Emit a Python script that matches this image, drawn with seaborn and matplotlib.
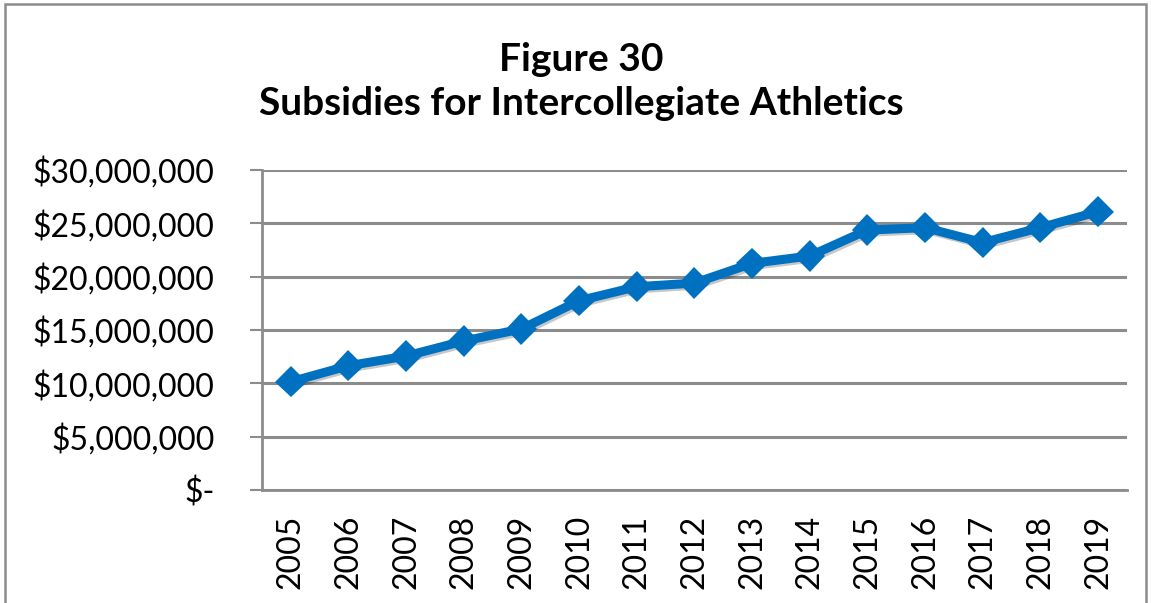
import matplotlib
matplotlib.use("Agg")
import matplotlib.pyplot as plt
import matplotlib.patheffects as pe
from matplotlib.patches import Rectangle
from matplotlib.ticker import FuncFormatter
import numpy as np
import pandas as pd
import seaborn as sns

# Subsidy totals by fiscal year
years = ["2005", "2006", "2007", "2008", "2009", "2010", "2011", "2012",
         "2013", "2014", "2015", "2016", "2017", "2018", "2019"]
subsidies = [10_150_000, 11_650_000, 12_560_000, 13_970_000, 15_100_000,
             17_750_000, 19_060_000, 19_400_000, 21_250_000, 21_940_000,
             24_370_000, 24_600_000, 23_200_000, 24_600_000, 26_100_000]
y_ticks = [0, 5_000_000, 10_000_000, 15_000_000, 20_000_000, 25_000_000, 30_000_000]

title_text = "Figure 30\nSubsidies for Intercollegiate Athletics"

sns.set_theme(style="white")
plt.rcParams["font.family"] = ["Lato", "DejaVu Sans"]
plt.rcParams["text.color"] = "black"

LINE_BLUE = "#0070C0"
GRID_GRAY = "#8C8C8C"

df = pd.DataFrame({"year": years, "subsidy": subsidies})

fig = plt.figure(figsize=(11.51, 6.03), dpi=100)
ax = fig.add_axes([0.2276, 0.1874, 0.979 - 0.2276, 0.718 - 0.1874])

sns.lineplot(data=df, x="year", y="subsidy", ax=ax, color=LINE_BLUE,
             linewidth=6.5, marker="D", markersize=16, markeredgewidth=0,
             sort=False,
             path_effects=[pe.SimpleLineShadow(offset=(1.5, -1.5), alpha=0.22,
                                               shadow_color="black"),
                           pe.Normal()])

ax.set_xlim(-0.5, len(years) - 0.5)
ax.set_ylim(0, 30_000_000)
ax.set_yticks(y_ticks)


def money(v, _pos):
    if v == 0:
        return "$-"
    return "${:,.0f}".format(v)


ax.yaxis.set_major_formatter(FuncFormatter(money))
ax.yaxis.grid(True, color=GRID_GRAY, linewidth=2.2)
ax.set_axisbelow(True)

# category labels at centres, tick marks on category boundaries
ax.set_xticks(range(len(years)))
ax.set_xticklabels(years, rotation=90)
ax.set_xticks(np.arange(-0.5, len(years)), minor=True)
ax.tick_params(axis="x", which="major", length=0, pad=18, labelsize=23,
               labelcolor="black")
ax.tick_params(axis="x", which="minor", length=9, width=1.5, color=GRID_GRAY,
               direction="out")
ax.tick_params(axis="y", which="major", length=9, width=1.5, color=GRID_GRAY,
               direction="out", pad=25, labelsize=23, labelcolor="black",
               left=True)

for side in ("top", "right"):
    ax.spines[side].set_visible(False)
for side in ("left", "bottom"):
    ax.spines[side].set_color(GRID_GRAY)
    ax.spines[side].set_linewidth(2.0)

ax.set_xlabel("")
ax.set_ylabel("")

fig.text(0.505, 0.865, title_text, ha="center", va="center", fontsize=28,
         fontweight="bold", linespacing=1.3, color="black")

# chart frame
fig.patches.append(Rectangle((0.004, -0.02), 0.992, 1.013, transform=fig.transFigure,
                             fill=False, edgecolor=GRID_GRAY, linewidth=1.8))

fig.savefig("out.png", dpi=100)
